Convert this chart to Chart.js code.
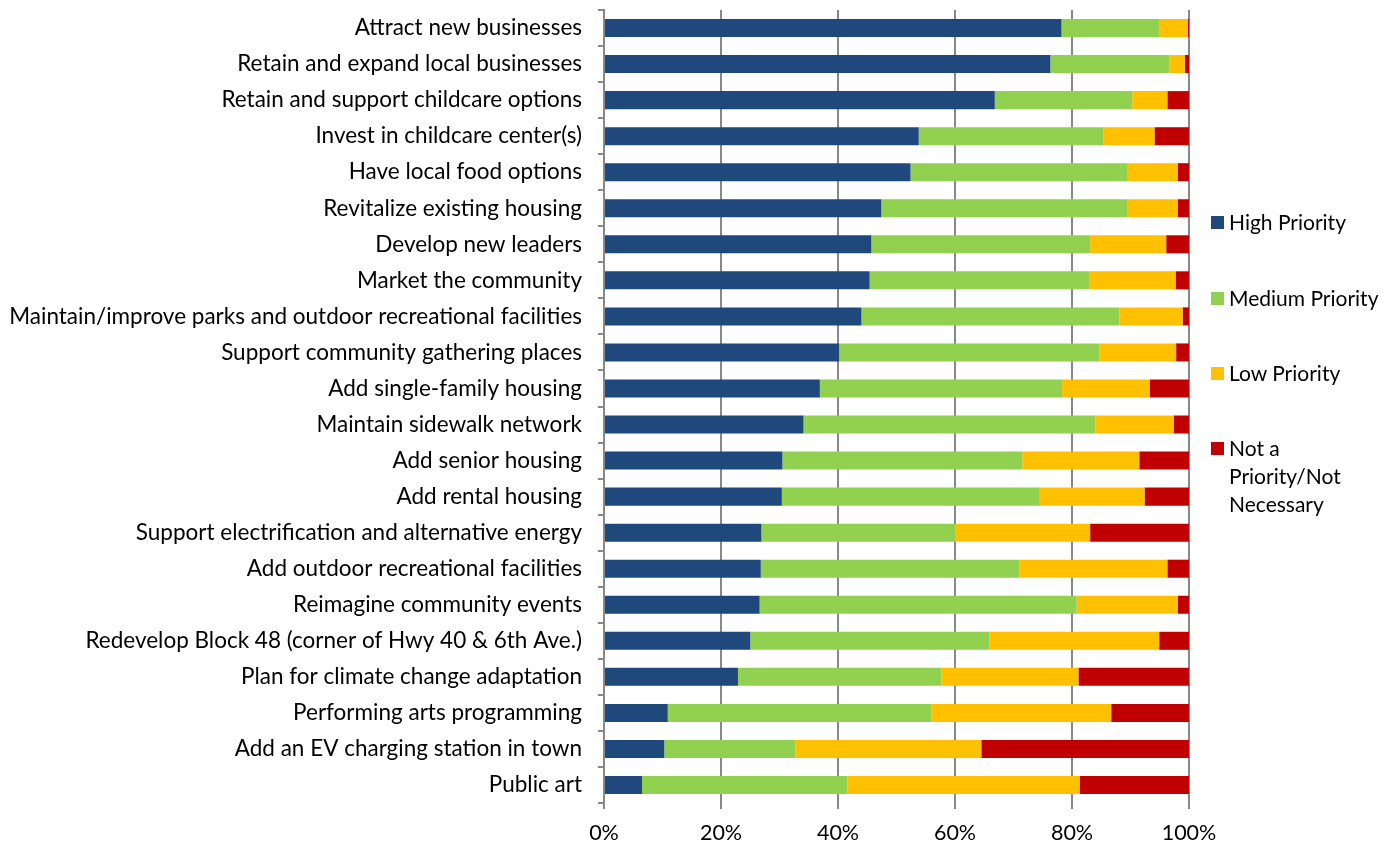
<!DOCTYPE html>
<html>
<head>
<meta charset="utf-8">
<script src="https://cdn.jsdelivr.net/npm/chart.js@4"></script>
<style>
  body { margin: 0; background: #fff; }
  #wrap { position: relative; width: 1397px; height: 850px; }
  #legend { position: absolute; left: 1211px; top: 208px; font-family: Lato, "Open Sans", sans-serif; font-size: 21px; color: #000; }
  .item { position: absolute; left: 0; white-space: nowrap; line-height: 28px; }
  .sw { position: absolute; left: 0; top: 8px; width: 13px; height: 13px; }
  .txt { position: absolute; left: 18px; top: 0; }
</style>
</head>
<body>
<div id="wrap">
  <canvas id="mycanvas" width="1397" height="850"></canvas>
  <div id="legend"></div>
</div>
<script>
var categories = [
  "Attract new businesses",
  "Retain and expand local businesses",
  "Retain and support childcare options",
  "Invest in childcare center(s)",
  "Have local food options",
  "Revitalize existing housing",
  "Develop new leaders",
  "Market the community",
  "Maintain/improve parks and outdoor recreational facilities",
  "Support community gathering places",
  "Add single-family housing",
  "Maintain sidewalk network",
  "Add senior housing",
  "Add rental housing",
  "Support electrification and alternative energy",
  "Add outdoor recreational facilities",
  "Reimagine community events",
  "Redevelop Block 48 (corner of Hwy 40 & 6th Ave.)",
  "Plan for climate change adaptation",
  "Performing arts programming",
  "Add an EV charging station in town",
  "Public art"
];

var high_priority   = [78.2, 76.3, 66.8, 53.8, 52.4, 47.4, 45.7, 45.4, 44.0, 40.2, 36.9, 34.1, 30.5, 30.4, 26.9, 26.8, 26.6, 25.0, 22.9, 10.9, 10.3, 6.5];
var medium_priority = [16.8, 20.3, 23.5, 31.6, 37.0, 42.0, 37.4, 37.5, 44.1, 44.5, 41.4, 49.9, 41.0, 44.1, 33.1, 44.2, 54.2, 40.9, 34.8, 45.1, 22.4, 35.1];
var low_priority    = [4.8, 2.7, 6.0, 8.7, 8.7, 8.7, 13.0, 14.8, 10.8, 13.1, 15.0, 13.4, 20.0, 17.9, 23.1, 25.3, 17.3, 29.0, 23.4, 30.7, 31.8, 39.7];
var not_priority    = [0.2, 0.7, 3.7, 5.9, 1.9, 1.9, 3.9, 2.3, 1.1, 2.2, 6.7, 2.6, 8.5, 7.6, 16.9, 3.7, 1.9, 5.1, 18.9, 13.3, 35.5, 18.7];

var seriesNames = ["High Priority", "Medium Priority", "Low Priority", ["Not a", "Priority/Not", "Necessary"]];
var seriesColors = ["#1F497D", "#92D050", "#FFC000", "#C00000"];

var FONT = "Lato, 'Open Sans', sans-serif";

var chartdata = {
  labels: categories,
  datasets: [
    { label: "High Priority", backgroundColor: seriesColors[0], data: high_priority },
    { label: "Medium Priority", backgroundColor: seriesColors[1], data: medium_priority },
    { label: "Low Priority", backgroundColor: seriesColors[2], data: low_priority },
    { label: "Not a Priority/Not Necessary", backgroundColor: seriesColors[3], data: not_priority }
  ]
};
chartdata.datasets.forEach(function(ds) {
  ds.barPercentage = 0.5;
  ds.categoryPercentage = 1.0;
  ds.borderWidth = 0;
});

var ctx = document.getElementById("mycanvas");
var BarGraph = new Chart(ctx, {
  type: 'bar',
  data: chartdata,
  options: {
    indexAxis: 'y',
    responsive: false,
    animation: false,
    layout: { padding: { top: 10, right: 208, left: 0, bottom: 0 } },
    plugins: { legend: { display: false }, tooltip: { enabled: false } },
    scales: {
      x: {
        stacked: true,
        min: 0,
        max: 100,
        ticks: {
          stepSize: 20,
          color: "#000",
          font: { family: FONT, size: 21.5 },
          padding: 11,
          callback: function(v) { return v + "%"; }
        },
        grid: { color: "#888", lineWidth: 2, tickLength: 6, tickColor: "#888" },
        border: { display: false },
        afterFit: function(scale) { scale.height = 47; }
      },
      y: {
        stacked: true,
        ticks: {
          color: "#000",
          font: { family: FONT, size: 22.5 },
          padding: 16,
          autoSkip: false
        },
        grid: { drawOnChartArea: false, color: "#888", lineWidth: 2, tickLength: 6, offset: true },
        border: { color: "#888", width: 2 },
        afterFit: function(scale) {
          scale.width = 604;
          scale.paddingTop = 0;
          scale.paddingBottom = 0;
        }
      }
    }
  }
});

// legend
var legend = document.getElementById("legend");
var tops = [0, 76, 151, 226];
seriesNames.forEach(function(name, i) {
  var item = document.createElement("div");
  item.className = "item";
  item.style.top = tops[i] + "px";
  var sw = document.createElement("div");
  sw.className = "sw";
  sw.style.background = seriesColors[i];
  var txt = document.createElement("div");
  txt.className = "txt";
  txt.innerHTML = Array.isArray(name) ? name.join("<br>") : name;
  item.appendChild(sw);
  item.appendChild(txt);
  legend.appendChild(item);
});
</script>
</body>
</html>
